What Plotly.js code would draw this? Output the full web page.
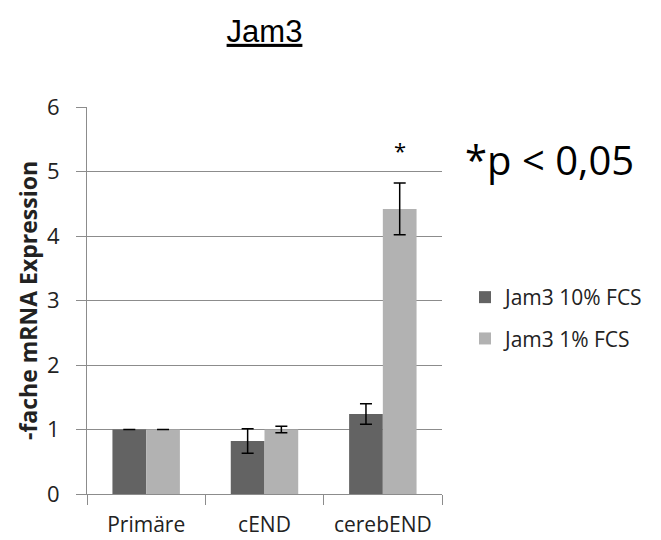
<!DOCTYPE html>
<html>
<head>
<meta charset="utf-8">
<script src="https://cdn.plot.ly/plotly-3.0.1.min.js"></script>
<style>html,body{margin:0;padding:0;background:#fff;}#chart{width:661px;height:540px;}</style>
</head>
<body>
<div id="chart"></div>
<script>
var categories = ["Primäre", "cEND", "cerebEND"];
var series1Name = "Jam3 10% FCS";
var series1Values = [1.0, 0.82, 1.24];
var series1Errors = [0.0, 0.19, 0.16];
var series2Name = "Jam3 1% FCS";
var series2Values = [1.0, 1.0, 4.42];
var series2Errors = [0.0, 0.05, 0.40];
var yTicks = [0, 1, 2, 3, 4, 5, 6];

var font = "Open Sans, sans-serif";

var traces = [
  {
    type: "bar", name: series1Name, x: categories, y: series1Values,
    marker: {color: "#636363"},
    error_y: {type: "data", array: series1Errors, visible: true, color: "#000", thickness: 1.5, width: 6},
    legendgroup: "a"
  },
  {
    type: "bar", name: series2Name, x: categories, y: series2Values,
    marker: {color: "#b2b2b2"},
    error_y: {type: "data", array: series2Errors, visible: true, color: "#000", thickness: 1.5, width: 6},
    legendgroup: "b"
  }
];

var layout = {
  width: 661, height: 540,
  paper_bgcolor: "#fff", plot_bgcolor: "#fff",
  margin: {l: 87, r: 219, t: 107, b: 46},
  barmode: "group", bargap: 0.43, bargroupgap: 0,
  showlegend: true,
  font: {family: font, color: "#222"},
  title: {
    text: "<u>Jam3</u>",
    font: {family: "Liberation Sans, Arial, sans-serif", size: 31, color: "#000"},
    x: 0.5, xref: "paper", y: 1 - 31/540, yref: "container", yanchor: "middle"
  },
  xaxis: {
    type: "category",
    tickson: "boundaries",
    ticks: "outside", ticklen: 10, tickcolor: "#8c8c8c", tickwidth: 1,
    ticklabelstandoff: 12,
    showline: true, linecolor: "#8c8c8c", linewidth: 1,
    showgrid: false, zeroline: false,
    tickfont: {family: font, size: 21, color: "#222"},
    automargin: false,
    fixedrange: true
  },
  yaxis: {
    range: [0, 6], tickvals: yTicks,
    ticks: "outside", ticklen: 10, tickcolor: "#8c8c8c", tickwidth: 1,
    ticklabelstandoff: 12,
    showline: true, linecolor: "#8c8c8c", linewidth: 1,
    showgrid: true, gridcolor: "#8c8c8c", gridwidth: 1,
    zeroline: false,
    tickfont: {family: font, size: 22, color: "#222"},
    title: {text: "<b>-fache mRNA Expression</b>", font: {family: font, size: 23, color: "#222"}, standoff: 2},
    automargin: false,
    fixedrange: true
  },
  legend: {
    x: 465/661, xanchor: "left", xref: "container",
    y: 1 - 277/540, yanchor: "top", yref: "container",
    font: {family: font, size: 21, color: "#222"},
    tracegroupgap: 11, itemwidth: 30,
    bgcolor: "rgba(0,0,0,0)"
  },
  annotations: [
    {
      x: 2.1425, y: 5.33, xref: "x", yref: "y",
      text: "*", showarrow: false,
      font: {family: font, size: 22, color: "#000"}
    },
    {
      x: (463 - 87) / 355, y: (494 - 160) / 387, xref: "paper", yref: "paper",
      xanchor: "left", yanchor: "middle",
      text: "*p < 0,05", showarrow: false,
      font: {family: font, size: 40, color: "#000"}
    }
  ]
};

Plotly.newPlot("chart", traces, layout, {displayModeBar: false, staticPlot: true});
</script>
</body>
</html>
